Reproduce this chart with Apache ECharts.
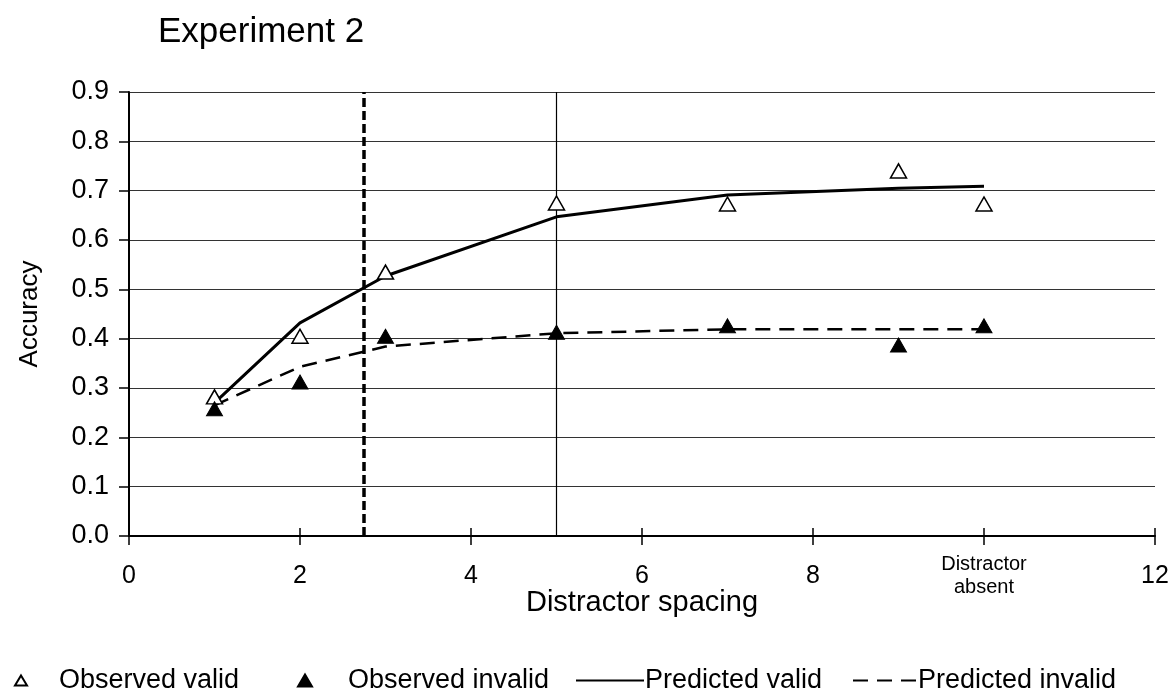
<!DOCTYPE html>
<html>
<head>
<meta charset="utf-8">
<script src="https://cdn.jsdelivr.net/npm/echarts@6/dist/echarts.min.js"></script>
<style>
  html, body { margin: 0; padding: 0; background: #fff; }
  #chart { width: 1172px; height: 690px; }
</style>
</head>
<body>
<div id="chart"></div>
<script>
// Distractor spacing positions (10 = distractor absent)
const spacing = [1, 2, 3, 5, 7, 9, 10];
const observedValid = [0.282, 0.405, 0.535, 0.675, 0.673, 0.740, 0.673];
const observedInvalid = [0.258, 0.312, 0.405, 0.413, 0.426, 0.387, 0.426];
const predictedValid = [0.270, 0.432, 0.527, 0.647, 0.691, 0.705, 0.709];
const predictedInvalid = [0.265, 0.343, 0.384, 0.411, 0.419, 0.419, 0.419];

// x tick labels; the slot at 10 stands for the distractor-absent condition
const xTickLabels = { 0: '0', 2: '2', 4: '4', 6: '6', 8: '8', 10: '{abs|Distractor}\n{abs|absent}', 12: '12' };
// vertical reference lines
const solidRefX = 5;
const dashedRefX = 2.75;

const FONT = "'Liberation Sans', Arial, sans-serif";
const pairs = ys => spacing.map((x, i) => [x, ys[i]]);

const chart = echarts.init(document.getElementById('chart'), null, { renderer: 'canvas' });

const legendText = { fontFamily: FONT, fontSize: 27, color: '#000' };
const legendBase = {
  orient: 'horizontal',
  top: 662,
  itemGap: 0,
  selectedMode: false
};

chart.setOption({
  animation: false,
  backgroundColor: '#fff',
  title: {
    text: 'Experiment 2',
    left: 153,
    top: 10,
    textStyle: { fontFamily: FONT, fontSize: 35, fontWeight: 'normal', color: '#000' }
  },
  grid: { left: 129, right: 17, top: 92, bottom: 154 },
  legend: [
    Object.assign({}, legendBase, {
      left: 9, data: ['Observed valid'], itemWidth: 12, itemHeight: 10,
      textStyle: Object.assign({}, legendText, { padding: [0, 0, 0, 27] })
    }),
    Object.assign({}, legendBase, {
      left: 292, data: ['Observed invalid'], itemWidth: 14, itemHeight: 12,
      textStyle: Object.assign({}, legendText, { padding: [0, 0, 0, 31] })
    }),
    Object.assign({}, legendBase, {
      left: 570, data: ['Predicted valid'], itemWidth: 68, itemHeight: 14,
      itemStyle: { opacity: 0 },
      textStyle: Object.assign({}, legendText, { padding: [0, 0, 0, -4] })
    }),
    Object.assign({}, legendBase, {
      left: 847, data: ['Predicted invalid'], itemWidth: 64, itemHeight: 14,
      itemStyle: { opacity: 0 },
      textStyle: Object.assign({}, legendText, { padding: [0, 0, 0, -4] })
    })
  ],
  xAxis: [
    {
      type: 'value',
      min: 0, max: 12, interval: 2,
      name: 'Distractor spacing',
      nameLocation: 'middle',
      nameGap: 52,
      nameMoveOverlap: false,
      nameTextStyle: { fontFamily: FONT, fontSize: 29, color: '#000', verticalAlign: 'top' },
      axisLine: { show: true, onZero: false, lineStyle: { color: '#000', width: 2 } },
      axisTick: { show: true, length: 9, lineStyle: { color: '#000', width: 1.5 } },
      splitLine: { show: false },
      axisLabel: {
        margin: 40,
        verticalAlign: 'middle',
        fontFamily: FONT, fontSize: 25, color: '#000',
        formatter: v => xTickLabels[v] !== undefined ? xTickLabels[v] : '',
        rich: { abs: { fontFamily: FONT, fontSize: 20, lineHeight: 23, color: '#000' } }
      }
    },
    {
      // inner half of the crossing x ticks
      type: 'value',
      min: 0, max: 12, interval: 2,
      position: 'bottom',
      axisLine: { show: false },
      axisTick: { show: true, inside: true, length: 8, lineStyle: { color: '#000', width: 1.5 } },
      axisLabel: { show: false },
      splitLine: { show: false }
    }
  ],
  yAxis: {
    type: 'value',
    min: 0, max: 0.9, interval: 0.1,
    name: 'Accuracy',
    nameLocation: 'middle',
    nameGap: 86,
    nameRotate: 90,
    nameMoveOverlap: false,
    nameTextStyle: { fontFamily: FONT, fontSize: 26, color: '#000' },
    axisLine: { show: true, lineStyle: { color: '#000', width: 2 } },
    axisTick: { show: true, length: 10, lineStyle: { color: '#000', width: 1.5 } },
    axisLabel: {
      margin: 20,
      fontFamily: FONT, fontSize: 27, color: '#000',
      formatter: v => v.toFixed(1)
    },
    splitLine: { show: true, lineStyle: { color: '#333', width: 1.2 } }
  },
  series: [
    {
      name: 'Predicted valid',
      type: 'line',
      data: pairs(predictedValid),
      symbol: 'none',
      z: 3,
      lineStyle: { color: '#000', width: 3 },
      itemStyle: { color: '#000' },
      markLine: {
        silent: true,
        symbol: 'none',
        label: { show: false },
        data: [
          { xAxis: solidRefX, lineStyle: { color: '#000', width: 1.2, type: 'solid' } },
          { xAxis: dashedRefX, lineStyle: { color: '#000', width: 3.5, type: [9, 4] } }
        ]
      }
    },
    {
      name: 'Predicted invalid',
      type: 'line',
      data: pairs(predictedInvalid),
      symbol: 'none',
      z: 3,
      lineStyle: { color: '#000', width: 2.5, type: [15, 9] },
      itemStyle: { color: '#000' }
    },
    {
      name: 'Observed valid',
      type: 'scatter',
      data: pairs(observedValid),
      symbol: 'triangle',
      symbolSize: [16, 14],
      z: 5,
      itemStyle: { color: '#fff', borderColor: '#000', borderWidth: 1.5, opacity: 1 }
    },
    {
      name: 'Observed invalid',
      type: 'scatter',
      data: pairs(observedInvalid),
      symbol: 'triangle',
      symbolSize: [16, 14],
      z: 6,
      itemStyle: { color: '#000', borderColor: '#000', borderWidth: 1, opacity: 1 }
    }
  ]
});
</script>
</body>
</html>
